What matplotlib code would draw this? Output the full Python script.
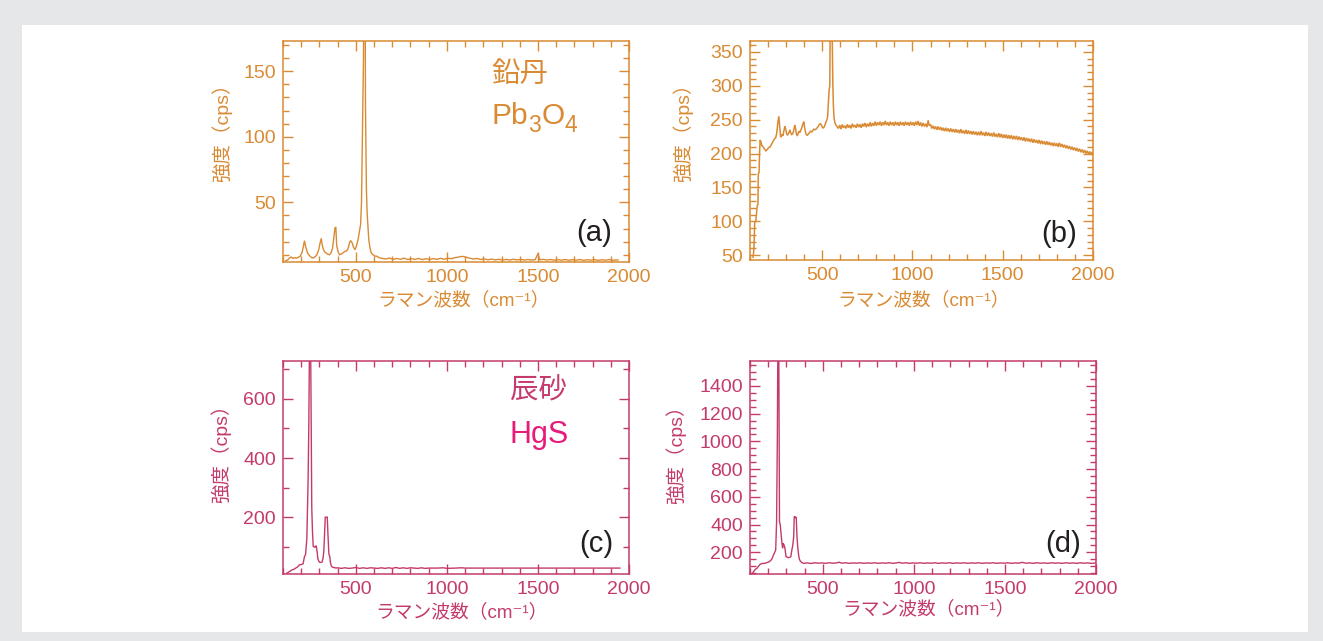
import matplotlib
matplotlib.use('Agg')
import matplotlib.pyplot as plt
from matplotlib.patches import Rectangle
from matplotlib.ticker import MultipleLocator

FAMS = ['Liberation Sans', 'Noto Sans CJK JP', 'DejaVu Sans']
plt.rcParams['font.family'] = FAMS

# ---------------- data (wavenumber cm-1, intensity cps) ----------------
spec_a = [(115, 5.5), (125, 6.0), (135, 7.5), (145, 8.3), (155, 7.2), (165, 7.8), (175, 7.4), (185, 8.2),
          (195, 9.0), (205, 12.0), (212, 16.5), (218, 20.8), (223, 17.0), (228, 14.5), (236, 11.0),
          (246, 9.3), (256, 8.0), (266, 7.6), (276, 8.4), (286, 10.0), (296, 13.9), (303, 18.5),
          (310, 22.5), (316, 17.0), (322, 14.0), (330, 12.0), (338, 11.3), (346, 10.5), (356, 10.0),
          (364, 11.5), (372, 15.0), (380, 24.0), (385, 30.4), (390, 31.2), (395, 17.0), (402, 12.5),
          (410, 10.0), (420, 10.5), (430, 11.5), (440, 12.6), (450, 13.0), (458, 15.0), (466, 19.5),
          (472, 20.8), (480, 19.0), (488, 15.5), (496, 13.9), (504, 17.0), (512, 21.5), (520, 28.0),
          (526, 33.0), (531, 49.5), (536, 100), (542, 160), (546, 260), (550, 260), (553, 123),
          (558, 60), (562, 42), (567, 30), (571, 21.5), (578, 15.0), (585, 11.3), (595, 10.0),
          (605, 9.0), (615, 8.9), (625, 8.0), (645, 7.2), (665, 6.8), (685, 7.5), (705, 6.5),
          (725, 7.2), (745, 6.6), (765, 7.4), (785, 6.4), (805, 7.0), (825, 6.5), (845, 7.2),
          (865, 6.3), (885, 7.0), (905, 6.4), (925, 7.1), (945, 6.5), (965, 7.3), (985, 6.6),
          (1005, 7.4), (1025, 7.0), (1045, 7.8), (1065, 8.3), (1085, 8.8), (1105, 8.2), (1125, 7.4),
          (1145, 6.8), (1165, 7.2), (1185, 6.4), (1205, 6.9), (1225, 6.2), (1245, 6.7), (1265, 6.1),
          (1285, 6.6), (1305, 6.0), (1325, 6.5), (1345, 6.0), (1365, 6.6), (1385, 6.1), (1405, 6.5),
          (1425, 6.0), (1445, 6.4), (1465, 6.0), (1485, 6.3), (1500, 10.8), (1510, 6.2), (1530, 6.5),
          (1550, 6.0), (1570, 6.4), (1590, 5.9), (1610, 6.3), (1630, 5.9), (1650, 6.4), (1670, 5.8),
          (1690, 6.3), (1710, 5.9), (1730, 6.4), (1750, 5.8), (1770, 6.2), (1790, 5.9), (1810, 6.3),
          (1830, 5.8), (1850, 6.2), (1870, 5.9), (1890, 6.3), (1910, 5.8), (1930, 6.1), (1940, 6.0)]

spec_b = [(117, 47), (122, 60), (126, 99), (132, 100), (138, 118), (141, 124), (144, 125), (146, 170),
          (150, 172), (153, 200), (156, 220), (160, 218), (165, 212), (172, 210), (180, 207), (188, 204),
          (196, 206), (204, 209), (212, 210), (220, 214), (228, 218), (236, 222), (242, 223), (248, 230),
          (254, 245), (260, 255), (265, 238), (270, 224), (276, 228), (282, 226), (288, 234), (293, 240),
          (298, 236), (303, 229), (307, 227), (312, 229), (317, 232), (321, 235), (326, 230), (331, 228),
          (336, 229), (341, 233), (345, 238), (349, 242), (353, 236), (357, 229), (362, 226), (367, 230),
          (371, 233), (376, 231), (381, 234), (387, 238), (392, 243), (398, 247), (403, 238), (408, 231),
          (412, 228), (418, 227), (424, 229), (430, 231), (436, 233), (442, 232), (448, 234), (454, 236),
          (460, 235), (466, 236), (472, 238), (478, 240), (484, 243), (490, 244), (496, 242), (502, 238),
          (508, 238), (514, 241), (520, 246), (526, 250), (530, 254), (534, 275), (538, 293), (542, 300),
          (545, 420), (548, 420), (551, 420), (555, 380), (559, 301), (562, 270), (565, 254), (570, 246),
          (576, 242), (582, 240), (590, 237), (597, 242), (604, 236), (611, 243), (618, 238), (625, 241),
          (632, 237), (639, 243), (646, 238), (653, 242), (660, 237), (667, 244), (674, 239), (681, 242),
          (688, 238), (695, 244), (702, 239), (709, 243), (716, 238), (723, 244), (730, 240), (737, 245),
          (744, 239), (751, 244), (758, 240), (765, 246), (772, 240), (779, 245), (786, 241), (793, 247),
          (800, 241), (807, 246), (814, 242), (821, 247), (828, 241), (835, 246), (842, 242), (849, 248),
          (856, 242), (863, 246), (870, 241), (877, 247), (884, 242), (891, 246), (898, 241), (905, 247),
          (912, 242), (919, 246), (926, 241), (933, 247), (940, 242), (947, 246), (954, 241), (961, 247),
          (968, 242), (975, 246), (982, 241), (989, 247), (996, 242), (1003, 246), (1010, 241),
          (1017, 247), (1024, 242), (1031, 248), (1038, 241), (1045, 246), (1052, 240), (1059, 245),
          (1066, 240), (1073, 244), (1080, 239), (1087, 249), (1093, 241), (1100, 243), (1107, 237),
          (1114, 241), (1121, 236), (1128, 240), (1135, 235), (1142, 240), (1149, 235), (1156, 239),
          (1163, 234), (1170, 238), (1177, 233), (1184, 238), (1191, 233), (1198, 237), (1205, 232),
          (1212, 237), (1219, 232), (1226, 236), (1233, 231), (1240, 236), (1247, 231), (1254, 235),
          (1261, 230), (1268, 236), (1275, 230), (1282, 234), (1289, 229), (1296, 235), (1303, 229),
          (1310, 234), (1317, 229), (1324, 233), (1331, 228), (1338, 233), (1345, 228), (1352, 232),
          (1359, 227), (1366, 232), (1373, 227), (1380, 233), (1387, 227), (1394, 231), (1401, 226),
          (1408, 232), (1415, 226), (1422, 231), (1429, 226), (1436, 230), (1443, 225), (1450, 231),
          (1457, 225), (1464, 229), (1471, 224), (1478, 230), (1485, 224), (1492, 229), (1499, 223),
          (1506, 228), (1513, 223), (1520, 228), (1527, 222), (1534, 227), (1541, 222), (1548, 227),
          (1555, 221), (1562, 226), (1569, 221), (1576, 226), (1583, 220), (1590, 225), (1597, 220),
          (1604, 224), (1611, 219), (1618, 224), (1625, 218), (1632, 223), (1639, 218), (1646, 222),
          (1653, 217), (1660, 222), (1667, 216), (1674, 221), (1681, 216), (1688, 220), (1695, 215),
          (1702, 220), (1709, 214), (1716, 219), (1723, 214), (1730, 218), (1737, 213), (1744, 218),
          (1751, 213), (1758, 217), (1765, 212), (1772, 216), (1779, 211), (1786, 216), (1793, 211),
          (1800, 215), (1807, 210), (1814, 216), (1821, 210), (1828, 214), (1835, 209), (1842, 213),
          (1849, 208), (1856, 212), (1863, 207), (1870, 211), (1877, 206), (1884, 210), (1891, 205),
          (1898, 209), (1905, 204), (1912, 208), (1919, 203), (1926, 207), (1933, 202), (1940, 206),
          (1947, 201), (1954, 205), (1961, 200), (1968, 204), (1975, 199), (1982, 203), (1989, 198),
          (1996, 202), (2000, 200)]

spec_c = [(121, 11), (130, 14), (140, 18), (150, 22), (160, 24), (170, 28), (180, 32), (190, 39),
          (200, 40), (210, 42), (218, 67), (224, 74), (231, 129), (238, 330), (242, 523), (246, 850),
          (251, 850), (255, 500), (258, 230), (262, 150), (266, 101), (271, 100), (276, 98), (282, 104),
          (287, 85), (291, 61), (296, 52), (300, 48), (307, 47), (315, 49), (320, 62), (324, 84),
          (328, 140), (332, 200), (338, 200), (343, 200), (347, 140), (352, 75), (357, 67), (361, 45),
          (365, 36), (370, 32), (376, 30), (383, 30), (390, 28), (400, 29), (420, 27), (440, 29),
          (460, 27), (480, 28), (500, 30), (520, 27), (540, 29), (560, 27), (580, 29), (600, 28),
          (620, 27), (640, 29), (660, 27), (680, 29), (700, 27), (720, 30), (740, 27), (760, 29),
          (780, 27), (800, 29), (820, 28), (840, 27), (860, 29), (880, 27), (900, 28), (950, 28),
          (980, 29), (1000, 27), (1050, 28), (1080, 29), (1100, 28), (1950, 28)]

spec_d = [(113, 48), (120, 60), (130, 78), (138, 84), (147, 100), (156, 113), (165, 118), (175, 120),
          (183, 121), (193, 125), (203, 130), (211, 137), (220, 150), (229, 180), (236, 200), (241, 215),
          (246, 420), (250, 1000), (253, 1700), (258, 1700), (262, 420), (266, 400), (271, 325),
          (275, 270), (279, 229), (282, 265), (286, 255), (290, 240), (293, 217), (298, 168), (304, 165),
          (311, 161), (318, 163), (324, 168), (330, 217), (335, 250), (340, 313), (343, 457), (347, 457),
          (351, 450), (354, 450), (358, 313), (362, 240), (367, 180), (371, 150), (376, 137), (385, 125),
          (395, 120), (415, 123), (435, 119), (455, 124), (475, 121), (495, 123), (515, 120), (535, 124),
          (555, 121), (575, 123), (590, 128), (605, 121), (625, 124), (645, 120), (665, 123), (685, 121),
          (705, 124), (725, 120), (745, 123), (765, 121), (785, 124), (805, 120), (825, 123), (845, 121),
          (865, 124), (885, 120), (905, 123), (920, 127), (935, 121), (955, 124), (975, 120), (995, 123),
          (1015, 121), (1035, 124), (1055, 120), (1075, 123), (1095, 121), (1115, 124), (1135, 120),
          (1155, 123), (1175, 121), (1195, 124), (1215, 120), (1235, 123), (1255, 121), (1275, 124),
          (1295, 120), (1315, 123), (1335, 121), (1355, 124), (1375, 120), (1395, 123), (1415, 121),
          (1435, 124), (1455, 120), (1475, 123), (1495, 121), (1515, 124), (1535, 120), (1555, 123),
          (1575, 121), (1595, 127), (1615, 121), (1635, 123), (1655, 120), (1675, 124), (1695, 121),
          (1715, 123), (1735, 120), (1755, 124), (1775, 121), (1795, 123), (1815, 120), (1835, 124),
          (1855, 121), (1875, 123), (1895, 120), (1915, 124), (1935, 121), (1955, 123), (1975, 120),
          (1995, 122)]

x_major = [500, 1000, 1500, 2000]
ylims = {'a': (4.5, 173), 'b': (43, 366), 'c': (8, 728), 'd': (43, 1580)}
ymajor = {'a': 50, 'b': 50, 'c': 200, 'd': 200}
yminor = {'a': 10, 'b': 10, 'c': 100, 'd': 50}

xlabel_text = 'ラマン波数（cm⁻¹）'
ylabel_text = '強度（cps）'
formula_a = [('Pb', False), ('3', True), ('O', False), ('4', True)]

ORANGE = '#d98a33'
MAGENTA = '#c43a6c'
PINK = '#e61c7c'
DARK = '#231f20'

W, H = 1323, 641
fig = plt.figure(figsize=(W / 100, H / 100), dpi=100)
fig.patch.set_facecolor('#e6e7e8')
fig.add_artist(Rectangle((22 / W, 1 - 632 / H), (1308 - 22) / W, (632 - 25) / H,
                         transform=fig.transFigure, facecolor='white', edgecolor='none', zorder=0))


def make_axes(l, t, r, b):
    return fig.add_axes([l / W, 1 - b / H, (r - l) / W, (b - t) / H])


panels = {
    'a': dict(box=(283, 41, 629, 262), spec=spec_a, color=ORANGE, lw=1.0,
              ylab=(-0.177, 0.607), xlab=(0.523, -0.172), letter=(0.951, 0.133)),
    'b': dict(box=(750, 41, 1093, 260), spec=spec_b, color=ORANGE, lw=1.1,
              ylab=(-0.195, 0.605), xlab=(0.507, -0.183), letter=(0.953, 0.121)),
    'c': dict(box=(283, 361, 629, 574), spec=spec_c, color=MAGENTA, lw=1.0,
              ylab=(-0.181, 0.59), xlab=(0.517, -0.181), letter=(0.955, 0.141)),
    'd': dict(box=(750, 361, 1096, 574), spec=spec_d, color=MAGENTA, lw=1.0,
              ylab=(-0.214, 0.585), xlab=(0.517, -0.164), letter=(0.957, 0.141)),
}

axes = {}
for key, p in panels.items():
    ax = make_axes(*p['box'])
    axes[key] = ax
    c = p['color']
    xs = [pt[0] for pt in p['spec']]
    ys = [pt[1] for pt in p['spec']]
    ax.plot(xs, ys, color=c, lw=p['lw'], solid_joinstyle='miter')
    ax.set_xlim(100, 2000)
    ax.set_ylim(*ylims[key])
    ax.set_xticks(x_major)
    ax.xaxis.set_minor_locator(MultipleLocator(100))
    ax.yaxis.set_major_locator(MultipleLocator(ymajor[key]))
    ax.yaxis.set_minor_locator(MultipleLocator(yminor[key]))
    for s in ax.spines.values():
        s.set_color(c)
        s.set_linewidth(1.1)
    ax.tick_params(which='both', direction='in', top=True, right=True, color=c, width=1.0,
                   labelcolor=c, labelsize=14)
    ax.tick_params(which='major', length=7)
    ax.tick_params(which='minor', length=4)
    ax.tick_params(axis='x', pad=5)
    ax.tick_params(axis='y', pad=5)
    ax.text(p['ylab'][0], p['ylab'][1], ylabel_text, rotation=90, ha='center', va='center',
            color=c, fontsize=14, transform=ax.transAxes)
    ax.text(p['xlab'][0], p['xlab'][1], xlabel_text, ha='center', va='center',
            color=c, fontsize=13.5, transform=ax.transAxes)
    ax.text(p['letter'][0], p['letter'][1], '(' + key + ')', ha='right', va='center',
            color=DARK, fontsize=21, transform=ax.transAxes)

axa, axc = axes['a'], axes['c']
axa.text(0.603, 0.846, '鉛丹', ha='left', va='center', color=ORANGE, fontsize=20.5,
         transform=axa.transAxes)
axc.text(0.656, 0.856, '辰砂', ha='left', va='center', color=MAGENTA, fontsize=20.5,
         transform=axc.transAxes)
axc.text(0.656, 0.614, 'HgS', ha='left', va='baseline', color=PINK, fontsize=22,
         transform=axc.transAxes)

# chemical formula with subscripts, laid out piece by piece
renderer = fig.canvas.get_renderer()
x0, y0 = axa.transAxes.transform((0.603, 0.624))
for s, is_sub in formula_a:
    fs = 16.5 if is_sub else 21.5
    dy = -7.5 if is_sub else 0.0
    t = fig.text(x0 / W, (y0 + dy) / H, s, ha='left', va='baseline', color=ORANGE, fontsize=fs)
    bb = t.get_window_extent(renderer)
    x0 = bb.x1 + (0.5 if is_sub else 0.0)

fig.savefig('out.png', dpi=100, facecolor=fig.get_facecolor())
